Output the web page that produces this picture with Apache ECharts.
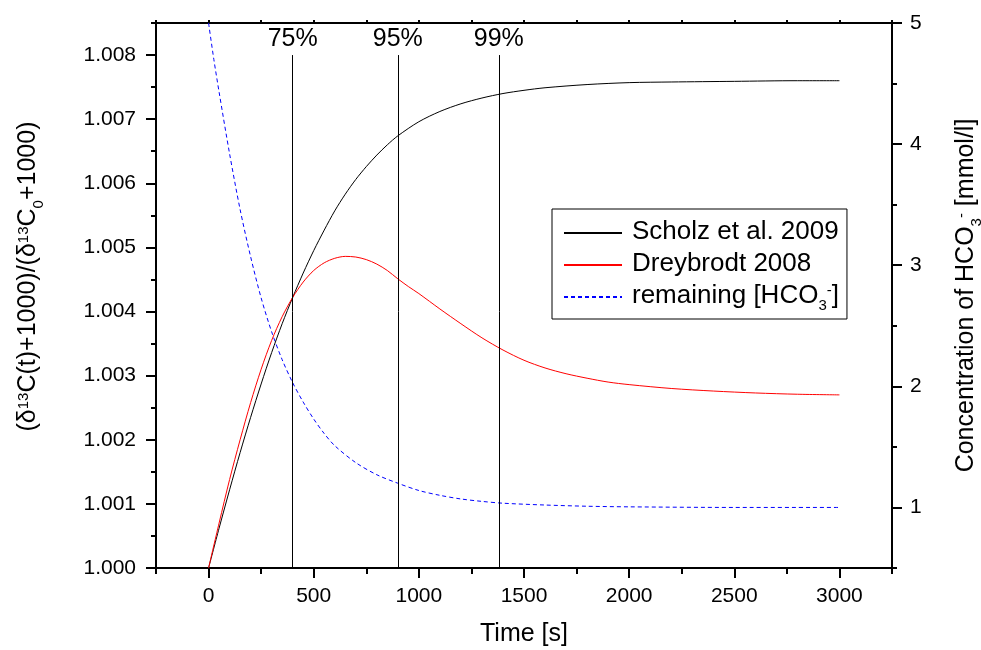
<!DOCTYPE html>
<html><head><meta charset="utf-8">
<script src="https://cdn.jsdelivr.net/npm/echarts@6/dist/echarts.min.js"></script>
<style>html,body{margin:0;padding:0;background:#fff}#c{width:981px;height:650px}</style>
</head><body><div id="c"></div>
<script>
// ---- data ----
const scholzTime  = [0,50,100,150,200,250,300,350,400,450,500,550,600,650,700,750,800,850,900,1000,1100,1200,1300,1400,1500,1600,1800,2000,2200,2500,2800,3000];
const scholzRatio = [1.00000,1.00062,1.00122,1.00180,1.00235,1.00287,1.00336,1.00381,1.00422,1.00460,1.00495,1.00527,1.00557,1.00583,1.00606,1.00626,1.00644,1.00660,1.00674,1.00696,1.00712,1.00724,1.00733,1.00740,1.00745,1.00749,1.00754,1.00757,1.00758,1.00759,1.00760,1.00760];
const dreyTime  = [0,50,100,150,200,250,300,350,400,450,500,550,600,650,700,750,800,850,900,950,1000,1100,1200,1300,1400,1500,1600,1700,1800,1900,2000,2200,2400,2600,2800,3000];
const dreyRatio = [1.00000,1.00070,1.00138,1.00200,1.00258,1.00310,1.00355,1.00392,1.00422,1.00446,1.00464,1.00476,1.00483,1.00486,1.00485,1.00481,1.00474,1.00464,1.00451,1.00439,1.00428,1.00404,1.00381,1.00359,1.00340,1.00324,1.00312,1.00303,1.00296,1.00290,1.00286,1.00280,1.00276,1.00273,1.00271,1.00270];
const hco3Time = [0,25,50,100,150,200,250,300,350,400,450,500,550,600,700,800,900,1000,1100,1200,1300,1400,1600,1800,2000,2500,3000];
const hco3Conc = [5.00,4.70,4.43,3.92,3.46,3.07,2.73,2.45,2.22,2.03,1.87,1.73,1.61,1.51,1.37,1.27,1.20,1.14,1.10,1.07,1.05,1.035,1.02,1.01,1.005,1.00,1.00];
const markerTimes  = [400, 900, 1380];
const markerLabels = ['75%', '95%', '99%'];
const markerRange  = [1.000, 1.008];
const seriesNames  = ['Scholz et al. 2009', 'Dreybrodt 2008', 'remaining [HCO3-]'];
const xMajorTicks  = [0,500,1000,1500,2000,2500,3000];
const xMinorTicks  = [-250,250,750,1250,1750,2250,2750,3250];
const xTopTicks    = [-250,0,250,500,750,1000,1250,1500,1750,2000,2250,2500,2750,3000,3250];
const yLeftMajor   = [1.000,1.001,1.002,1.003,1.004,1.005,1.006,1.007,1.008];
const yLeftMinor   = [1.0005,1.0015,1.0025,1.0035,1.0045,1.0055,1.0065,1.0075,1.0085];
const yRightMajor  = [1,2,3,4,5];
const yRightMinor  = [0.5,1.5,2.5,3.5,4.5];

// ---- chart ----
const FONT = '"Liberation Sans", Arial, Helvetica, sans-serif';
const zip = (a, b) => a.map((v, i) => [v, b[i]]);
const axLine = {show: true, onZero: false, lineStyle: {color: '#000', width: 2}};
const noLine = {show: false, onZero: false};
const tickStyle = {color: '#000', width: 2};
const richName = {
  n:   {fontSize: 25, lineHeight: 28, verticalAlign: 'top', color: '#000', fontFamily: FONT},
  sup: {fontSize: 15, lineHeight: 15, verticalAlign: 'top', color: '#000', fontFamily: FONT},
  sub: {fontSize: 15, lineHeight: 15, padding: [15, 0, 0, 0], verticalAlign: 'top', color: '#000', fontFamily: FONT}
};
const richLegend = {
  n:   {fontSize: 26, lineHeight: 28, verticalAlign: 'top', color: '#000', fontFamily: FONT},
  sup: {fontSize: 15, lineHeight: 15, verticalAlign: 'top', color: '#000', fontFamily: FONT},
  sub: {fontSize: 15, lineHeight: 15, padding: [15, 0, 0, 0], verticalAlign: 'top', color: '#000', fontFamily: FONT}
};

const chart = echarts.init(document.getElementById('c'), null, {renderer: 'canvas'});
chart.setOption({
  animation: false,
  backgroundColor: '#fff',
  textStyle: {fontFamily: FONT},
  grid: {left: 156, right: 89, top: 23, bottom: 82, containLabel: false, outerBoundsMode: 'none'},
  legend: {
    data: seriesNames,
    orient: 'vertical', left: 552, top: 209,
    padding: [10, 8, 6, 11], itemGap: 6, itemWidth: 58, itemHeight: 12,
    borderColor: '#000', borderWidth: 1, borderRadius: 0, backgroundColor: '#fff',
    selectedMode: false,
    itemStyle: {opacity: 0},
    textStyle: {fontSize: 26, color: '#000', fontFamily: FONT, padding: [0, 0, 0, 5], rich: richLegend},
    formatter: name => name === seriesNames[2]
      ? '{n|remaining [HCO}{sub|3}{sup|-}{n|]}'
      : '{n|' + name + '}'
  },
  xAxis: [
    {type: 'value', min: -250, max: 3250, position: 'bottom',
     axisLine: axLine,
     axisTick: {show: true, customValues: xMajorTicks, length: 10, lineStyle: tickStyle},
     axisLabel: {show: true, customValues: xMajorTicks, formatter: v => String(v), fontSize: 21, color: '#000', margin: 18, fontFamily: FONT},
     splitLine: {show: false},
     name: 'Time [s]', nameLocation: 'middle', nameGap: 54,
     nameTextStyle: {fontSize: 25, color: '#000', fontFamily: FONT}},
    {type: 'value', min: -250, max: 3250, position: 'bottom',
     axisLine: noLine,
     axisTick: {show: true, customValues: xMinorTicks, length: 6, lineStyle: tickStyle},
     axisLabel: {show: false}, splitLine: {show: false}},
    {type: 'value', min: -250, max: 3250, position: 'top',
     axisLine: axLine,
     axisTick: {show: true, customValues: xTopTicks, length: 3, lineStyle: tickStyle},
     axisLabel: {show: false}, splitLine: {show: false}}
  ],
  yAxis: [
    {type: 'value', min: 1.000, max: 1.0085, position: 'left',
     axisLine: axLine,
     axisTick: {show: true, customValues: yLeftMajor, length: 10, lineStyle: tickStyle},
     axisLabel: {show: true, customValues: yLeftMajor, formatter: v => v.toFixed(3), fontSize: 21, color: '#000', margin: 20, fontFamily: FONT},
     splitLine: {show: false},
     name: '{n|(δ}{sup|13}{n|C(t)+1000)/(δ}{sup|13}{n|C}{sub|0}{n|+1000)}',
     nameLocation: 'middle', nameRotate: 90, nameGap: 112,
     nameTextStyle: {rich: richName, padding: [0, 0, 0, 38]}},
    {type: 'value', min: 0.5, max: 5, position: 'right',
     axisLine: axLine,
     axisTick: {show: true, customValues: yRightMajor, length: 10, lineStyle: tickStyle},
     axisLabel: {show: true, customValues: yRightMajor, formatter: v => String(v), fontSize: 21, color: '#000', margin: 18, fontFamily: FONT},
     splitLine: {show: false},
     name: '{n|Concentration of HCO}{sub|3}{sup|-}{n| [mmol/l]}',
     nameLocation: 'middle', nameRotate: 90, nameGap: 62,
     nameTextStyle: {rich: richName}},
    {type: 'value', min: 1.000, max: 1.0085, position: 'left',
     axisLine: noLine,
     axisTick: {show: true, customValues: yLeftMinor, length: 5, lineStyle: tickStyle},
     axisLabel: {show: false}, splitLine: {show: false}},
    {type: 'value', min: 0.5, max: 5, position: 'right',
     axisLine: noLine,
     axisTick: {show: true, customValues: yRightMinor, length: 5, lineStyle: tickStyle},
     axisLabel: {show: false}, splitLine: {show: false}}
  ],
  series: [
    {name: seriesNames[0], type: 'line', xAxisIndex: 0, yAxisIndex: 0,
     data: zip(scholzTime, scholzRatio), symbol: 'none', smooth: 0.3,
     lineStyle: {color: '#000', width: 1}, itemStyle: {color: '#000'}, z: 4},
    {name: seriesNames[1], type: 'line', xAxisIndex: 0, yAxisIndex: 0,
     data: zip(dreyTime, dreyRatio), symbol: 'none', smooth: 0.3,
     lineStyle: {color: '#ff0000', width: 1}, itemStyle: {color: '#ff0000'}, z: 4},
    {name: seriesNames[2], type: 'line', xAxisIndex: 0, yAxisIndex: 1,
     data: zip(hco3Time, hco3Conc), symbol: 'none', smooth: 0.3,
     lineStyle: {color: '#0000ff', width: 1, type: [4, 3]}, itemStyle: {color: '#0000ff'}, z: 3},
    {name: 'markers', type: 'line', xAxisIndex: 0, yAxisIndex: 0,
     data: markerTimes.map(t => [t, markerRange[0]]), symbol: 'none',
     lineStyle: {width: 0, opacity: 0}, silent: true, z: 2,
     markLine: {
       silent: true, symbol: ['none', 'none'], animation: false,
       lineStyle: {color: '#000', width: 1, type: 'solid'},
       label: {show: true, position: 'end', formatter: '{b}', fontSize: 25, color: '#000', fontFamily: FONT, distance: 3},
       emphasis: {disabled: true},
       data: markerTimes.map((t, i) => [
         {coord: [t, markerRange[0]], name: markerLabels[i]},
         {coord: [t, markerRange[1]]}
       ])
     }}
  ]
});
</script>
</body></html>
